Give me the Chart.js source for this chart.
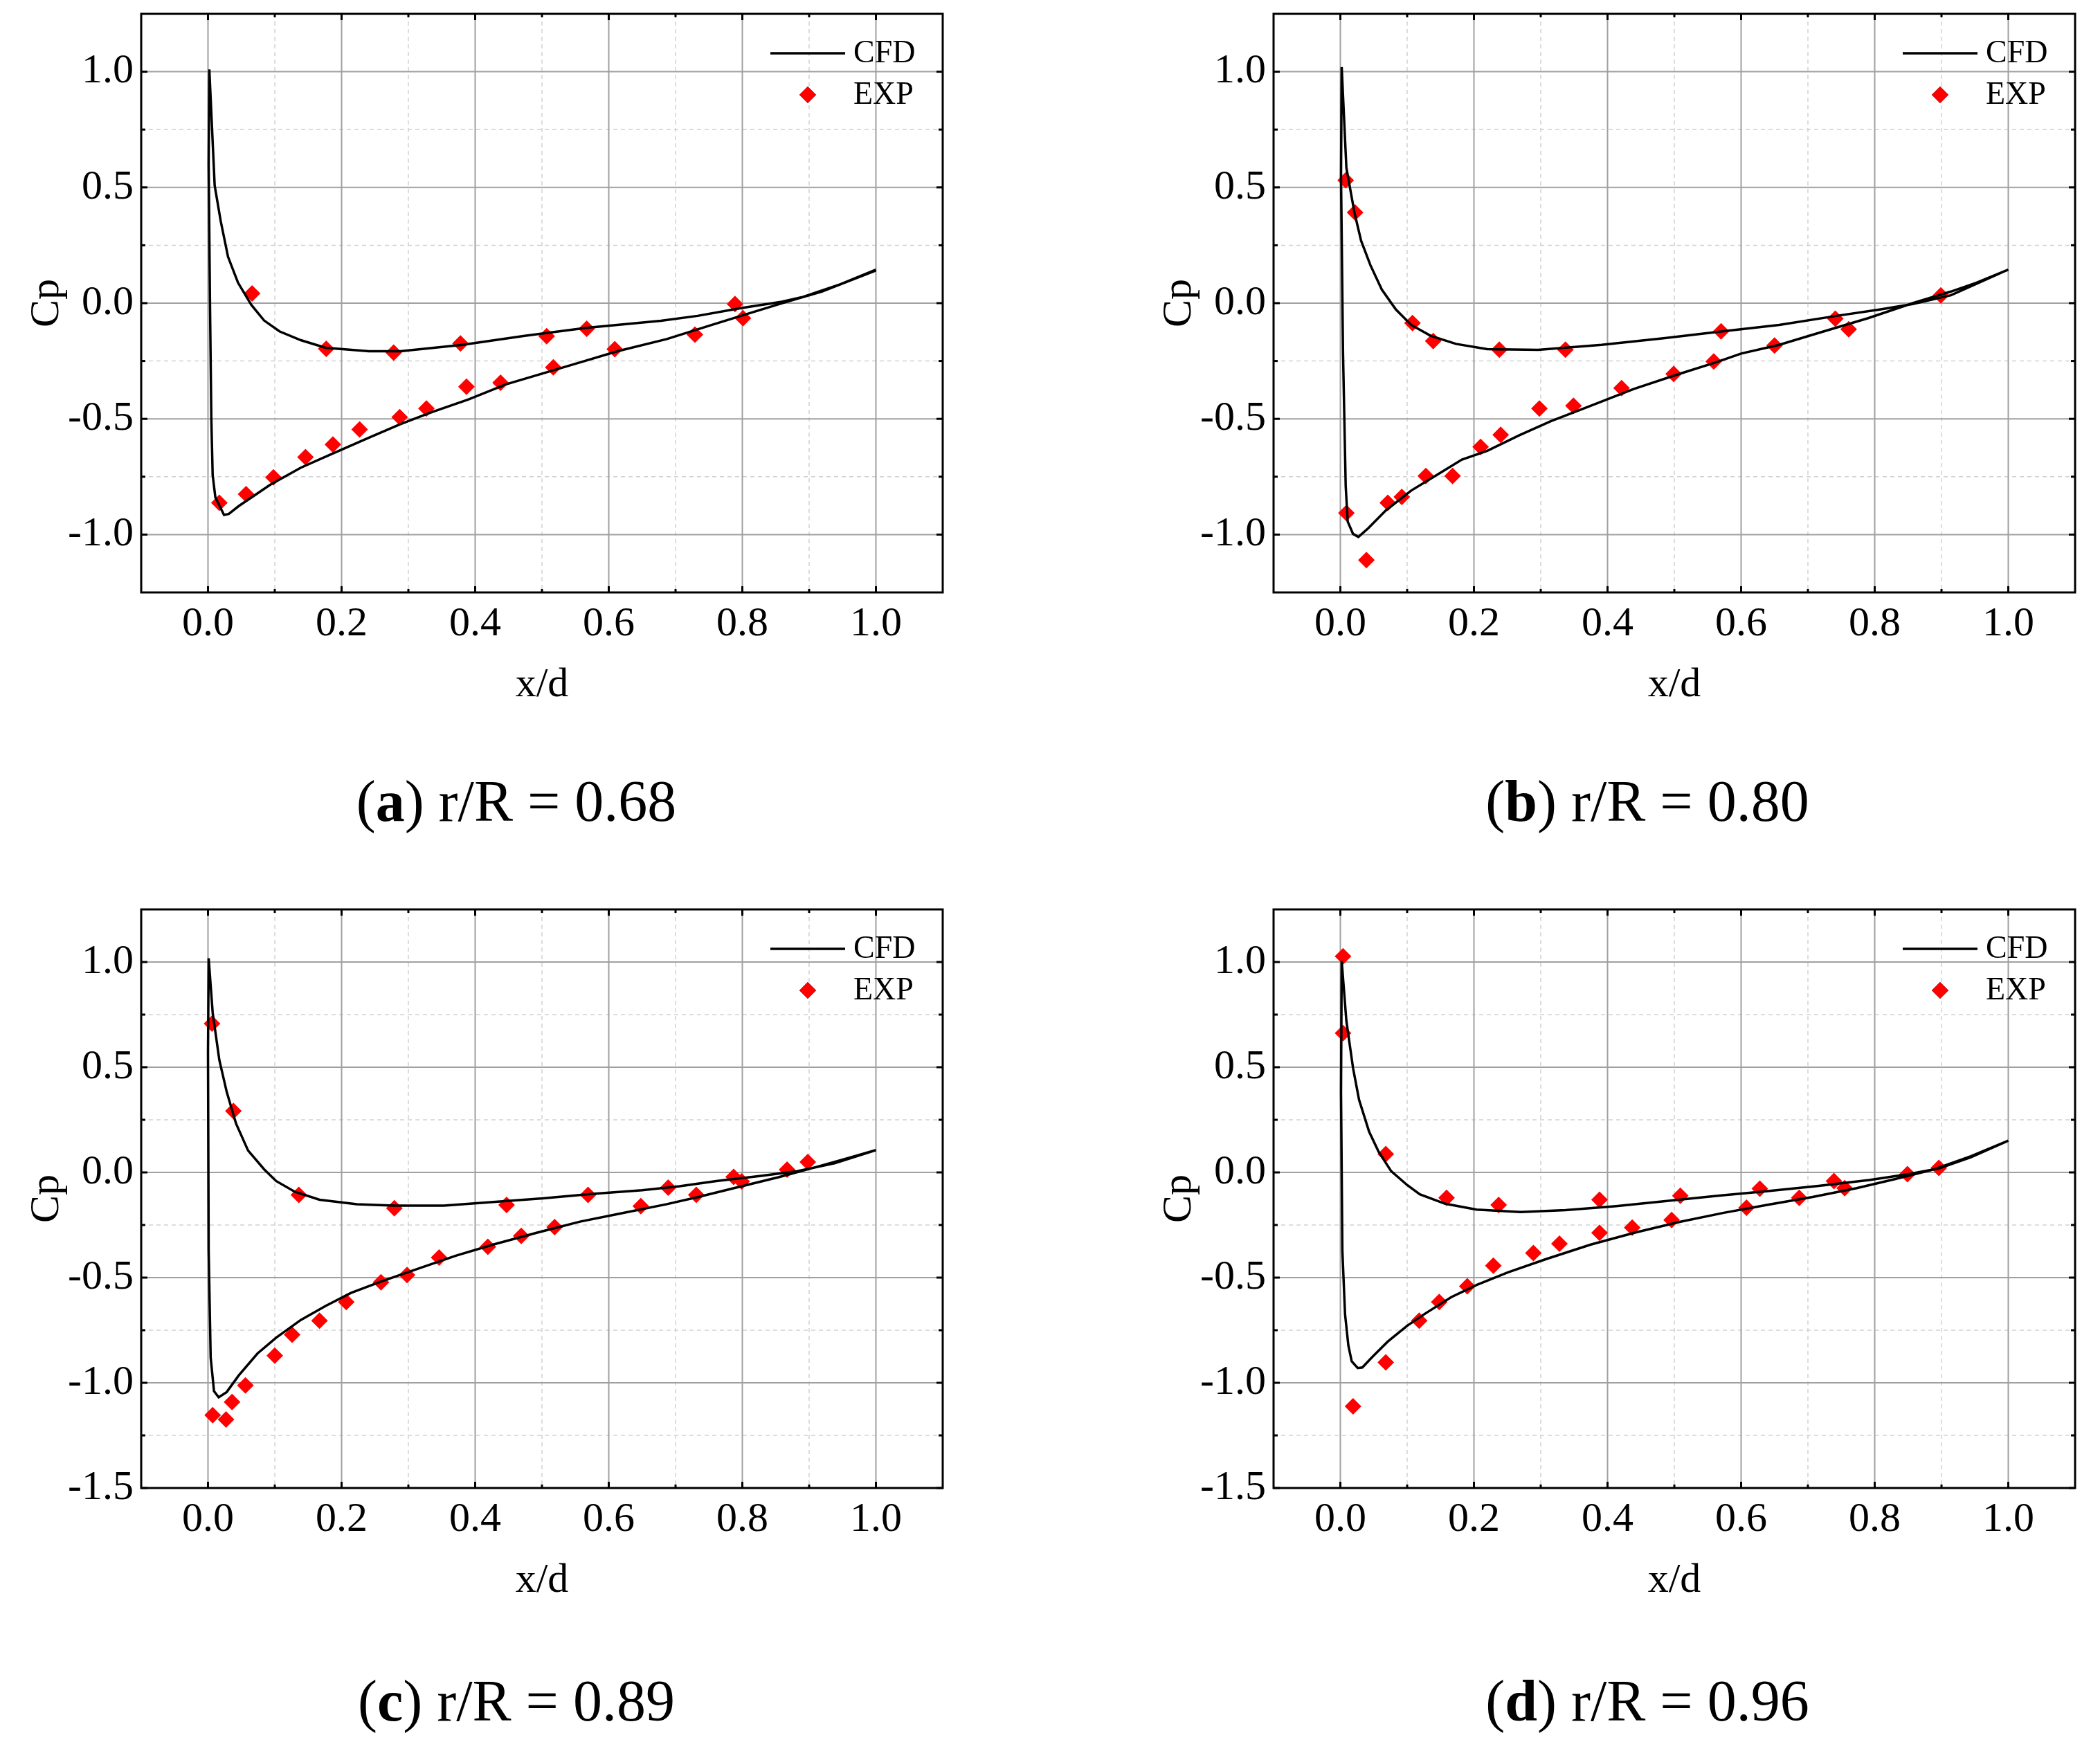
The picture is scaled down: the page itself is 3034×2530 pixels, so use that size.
<!DOCTYPE html>
<html>
<head>
<meta charset="utf-8">
<script src="https://cdn.jsdelivr.net/npm/chart.js@4.4.1/dist/chart.umd.min.js"></script>
<style>
  html, body { margin: 0; padding: 0; background: #fff; }
  body { width: 3034px; height: 2530px; position: relative; overflow: hidden; font-family: 'Liberation Serif', serif; }
  .panel { position: absolute; width: 1400px; height: 1060px; }
  .panel canvas { display: block; }
  .caption { position: absolute; width: 800px; margin-left: -400px; text-align: center; font-size: 84px; line-height: 1; color: #000; }
</style>
</head>
<body>
<div class="panel" style="left:0;top:0"><canvas id="chartA" width="1400" height="1060"></canvas></div>
<div class="panel" style="left:1636px;top:0"><canvas id="chartB" width="1400" height="1060"></canvas></div>
<div class="panel" style="left:0;top:1294px"><canvas id="chartC" width="1400" height="1060"></canvas></div>
<div class="panel" style="left:1636px;top:1294px"><canvas id="chartD" width="1400" height="1060"></canvas></div>
<div class="caption" style="left:746px;top:1116px">(<b>a</b>) r/R = 0.68</div>
<div class="caption" style="left:2380px;top:1116px">(<b>b</b>) r/R = 0.80</div>
<div class="caption" style="left:746px;top:2416px">(<b>c</b>) r/R = 0.89</div>
<div class="caption" style="left:2380px;top:2416px">(<b>d</b>) r/R = 0.96</div>
<script>
// tick values
const xTicks = [0.0, 0.2, 0.4, 0.6, 0.8, 1.0];
const xMinor = [0.1, 0.3, 0.5, 0.7, 0.9];
const yTicksAB = [-1.0, -0.5, 0.0, 0.5, 1.0];
const yMinorAB = [-0.75, -0.25, 0.25, 0.75];
const yTicksCD = [-1.5, -1.0, -0.5, 0.0, 0.5, 1.0];
const yMinorCD = [-1.25, -0.75, -0.25, 0.25, 0.75];

// (a) r/R = 0.68
const cfdAx = [1.0, 0.947, 0.891, 0.859, 0.799, 0.733, 0.678, 0.566, 0.474, 0.381, 0.288, 0.241, 0.176, 0.139, 0.107, 0.084, 0.065, 0.045, 0.030, 0.019, 0.010, 0.002,
  0.001, 0.003, 0.005, 0.007, 0.011, 0.024, 0.031, 0.046, 0.093, 0.139, 0.186, 0.241, 0.288, 0.334, 0.390, 0.446, 0.501, 0.557, 0.613, 0.687, 0.752, 0.808, 0.862, 0.919, 0.966, 1.0];
const cfdAy = [0.145, 0.082, 0.027, 0.006, -0.021, -0.055, -0.076, -0.107, -0.141, -0.180, -0.208, -0.208, -0.193, -0.160, -0.122, -0.075, -0.008, 0.088, 0.200, 0.355, 0.508, 1.010,
  0.600, 0.000, -0.500, -0.743, -0.839, -0.915, -0.911, -0.877, -0.785, -0.711, -0.651, -0.581, -0.523, -0.472, -0.416, -0.351, -0.304, -0.256, -0.208, -0.155, -0.096, -0.046, 0.002, 0.050, 0.103, 0.141];
const expAx = [0.017, 0.057, 0.066, 0.098, 0.146, 0.177, 0.187, 0.227, 0.278, 0.287, 0.327, 0.378, 0.387, 0.438, 0.507, 0.517, 0.567, 0.609, 0.729, 0.789, 0.801];
const expAy = [-0.863, -0.825, 0.042, -0.753, -0.665, -0.197, -0.611, -0.546, -0.214, -0.493, -0.455, -0.174, -0.361, -0.344, -0.143, -0.277, -0.111, -0.199, -0.136, -0.004, -0.065];

// (b) r/R = 0.80
const cfdBx = [1.0, 0.962, 0.914, 0.857, 0.809, 0.743, 0.657, 0.572, 0.486, 0.391, 0.296, 0.220, 0.173, 0.135, 0.106, 0.083, 0.062, 0.045, 0.031, 0.021, 0.009, 0.002,
  0.001, 0.004, 0.008, 0.011, 0.019, 0.027, 0.042, 0.068, 0.106, 0.144, 0.182, 0.220, 0.268, 0.315, 0.372, 0.439, 0.505, 0.562, 0.600, 0.657, 0.724, 0.790, 0.857, 0.914, 0.952, 1.0];
const cfdBy = [0.145, 0.096, 0.034, -0.004, -0.027, -0.055, -0.094, -0.122, -0.151, -0.180, -0.202, -0.199, -0.176, -0.141, -0.094, -0.027, 0.059, 0.164, 0.270, 0.393, 0.585, 1.020,
  0.546, -0.218, -0.791, -0.944, -0.997, -1.010, -0.972, -0.896, -0.810, -0.743, -0.676, -0.638, -0.571, -0.510, -0.447, -0.371, -0.308, -0.256, -0.218, -0.180, -0.122, -0.065, 0.000, 0.050, 0.088, 0.145];
const expBx = [0.008, 0.022, 0.009, 0.039, 0.071, 0.092, 0.108, 0.128, 0.139, 0.168, 0.210, 0.238, 0.240, 0.298, 0.337, 0.349, 0.421, 0.499, 0.559, 0.570, 0.650, 0.741, 0.761, 0.899];
const expBy = [0.531, 0.392, -0.907, -1.110, -0.863, -0.837, -0.086, -0.747, -0.164, -0.747, -0.621, -0.201, -0.569, -0.455, -0.201, -0.443, -0.367, -0.306, -0.252, -0.122, -0.183, -0.067, -0.113, 0.034];

// (c) r/R = 0.89
const cfdCx = [1.0, 0.938, 0.882, 0.826, 0.761, 0.706, 0.650, 0.576, 0.501, 0.427, 0.353, 0.279, 0.223, 0.167, 0.130, 0.102, 0.084, 0.060, 0.042, 0.028, 0.017, 0.007, 0.001,
  0.000, 0.001, 0.004, 0.009, 0.016, 0.028, 0.046, 0.074, 0.102, 0.139, 0.176, 0.214, 0.260, 0.316, 0.371, 0.427, 0.492, 0.557, 0.613, 0.687, 0.734, 0.799, 0.854, 0.910, 0.956, 1.0];
const cfdCy = [0.106, 0.043, 0.006, -0.017, -0.041, -0.066, -0.085, -0.102, -0.123, -0.141, -0.158, -0.158, -0.151, -0.130, -0.092, -0.041, 0.015, 0.104, 0.232, 0.383, 0.534, 0.760, 1.018,
  0.570, -0.370, -0.880, -1.040, -1.069, -1.044, -0.965, -0.861, -0.786, -0.701, -0.635, -0.573, -0.518, -0.456, -0.396, -0.343, -0.287, -0.234, -0.198, -0.151, -0.117, -0.066, -0.023, 0.025, 0.066, 0.106];
const expCx = [0.006, 0.038, 0.007, 0.027, 0.036, 0.056, 0.100, 0.126, 0.136, 0.167, 0.207, 0.259, 0.279, 0.298, 0.346, 0.419, 0.447, 0.469, 0.519, 0.569, 0.648, 0.689, 0.731, 0.787, 0.799, 0.867, 0.898];
const expCy = [0.707, 0.292, -1.154, -1.174, -1.091, -1.012, -0.871, -0.771, -0.107, -0.705, -0.616, -0.522, -0.170, -0.488, -0.405, -0.354, -0.155, -0.302, -0.260, -0.107, -0.160, -0.072, -0.107, -0.021, -0.043, 0.013, 0.049];

// (d) r/R = 0.96
const cfdDx = [1.0, 0.944, 0.896, 0.849, 0.792, 0.716, 0.640, 0.565, 0.489, 0.413, 0.337, 0.270, 0.204, 0.157, 0.119, 0.100, 0.076, 0.057, 0.043, 0.028, 0.019, 0.009, 0.002,
  0.001, 0.003, 0.007, 0.012, 0.017, 0.026, 0.033, 0.047, 0.071, 0.100, 0.128, 0.166, 0.204, 0.251, 0.308, 0.375, 0.441, 0.508, 0.574, 0.640, 0.707, 0.773, 0.830, 0.887, 0.944, 1.0];
const cfdDy = [0.151, 0.072, 0.019, -0.009, -0.036, -0.064, -0.089, -0.111, -0.136, -0.160, -0.179, -0.188, -0.177, -0.149, -0.104, -0.060, 0.006, 0.100, 0.194, 0.345, 0.496, 0.720, 1.005,
  0.380, -0.370, -0.673, -0.823, -0.898, -0.930, -0.927, -0.880, -0.804, -0.729, -0.669, -0.593, -0.535, -0.475, -0.412, -0.343, -0.286, -0.235, -0.192, -0.154, -0.117, -0.075, -0.032, 0.013, 0.077, 0.151];
const expDx = [0.004, 0.004, 0.068, 0.019, 0.068, 0.118, 0.148, 0.159, 0.190, 0.229, 0.237, 0.289, 0.328, 0.388, 0.388, 0.437, 0.496, 0.509, 0.608, 0.628, 0.687, 0.739, 0.755, 0.849, 0.896];
const expDy = [1.027, 0.662, 0.087, -1.112, -0.903, -0.705, -0.616, -0.121, -0.541, -0.443, -0.155, -0.383, -0.339, -0.130, -0.287, -0.262, -0.226, -0.111, -0.168, -0.077, -0.121, -0.041, -0.075, -0.008, 0.021];

Chart.defaults.font.family = "'Liberation Serif', 'Times New Roman', serif";
Chart.defaults.color = '#000';

const toPoints = (xs, ys) => xs.map((x, i) => ({ x: x, y: ys[i] }));

// grid, frame with inward ticks and the in-plot legend
const framePlugin = {
  id: 'frame',
  beforeDatasetsDraw(chart, args, opts) {
    const { ctx, chartArea: a, scales: { x, y } } = chart;
    ctx.save();
    ctx.strokeStyle = '#d2d2d2';
    ctx.lineWidth = 1.5;
    ctx.setLineDash([6, 5]);
    xMinor.forEach(v => {
      const p = x.getPixelForValue(v);
      ctx.beginPath(); ctx.moveTo(p, a.top); ctx.lineTo(p, a.bottom); ctx.stroke();
    });
    opts.yMinor.forEach(v => {
      const p = y.getPixelForValue(v);
      ctx.beginPath(); ctx.moveTo(a.left, p); ctx.lineTo(a.right, p); ctx.stroke();
    });
    ctx.setLineDash([]);
    ctx.strokeStyle = '#a0a0a0';
    ctx.lineWidth = 2;
    xTicks.forEach(v => {
      const p = x.getPixelForValue(v);
      ctx.beginPath(); ctx.moveTo(p, a.top); ctx.lineTo(p, a.bottom); ctx.stroke();
    });
    opts.yTicks.forEach(v => {
      const p = y.getPixelForValue(v);
      ctx.beginPath(); ctx.moveTo(a.left, p); ctx.lineTo(a.right, p); ctx.stroke();
    });
    ctx.restore();
  },
  afterDatasetsDraw(chart, args, opts) {
    const { ctx, chartArea: a, scales: { x, y } } = chart;
    ctx.save();
    ctx.strokeStyle = '#000';
    ctx.lineWidth = 3;
    const tick = (vals, len) => {
      vals.forEach(v => {
        const px = x.getPixelForValue(v);
        ctx.beginPath(); ctx.moveTo(px, a.bottom); ctx.lineTo(px, a.bottom - len); ctx.stroke();
        ctx.beginPath(); ctx.moveTo(px, a.top); ctx.lineTo(px, a.top + len); ctx.stroke();
      });
    };
    tick(xTicks, 9);
    tick(xMinor, 5);
    const ytick = (vals, len) => {
      vals.forEach(v => {
        const py = y.getPixelForValue(v);
        ctx.beginPath(); ctx.moveTo(a.left, py); ctx.lineTo(a.left + len, py); ctx.stroke();
        ctx.beginPath(); ctx.moveTo(a.right, py); ctx.lineTo(a.right - len, py); ctx.stroke();
      });
    };
    ytick(opts.yTicks, 9);
    ytick(opts.yMinor, 6);
    ctx.strokeRect(a.left, a.top, a.right - a.left, a.bottom - a.top);

    // legend
    const cfd = chart.data.datasets[0];
    const exp = chart.data.datasets[1];
    ctx.strokeStyle = cfd.borderColor;
    ctx.lineWidth = cfd.borderWidth;
    ctx.beginPath();
    ctx.moveTo(a.right - 249, a.top + 57);
    ctx.lineTo(a.right - 141, a.top + 57);
    ctx.stroke();
    Chart.helpers.drawPoint(ctx, {
      pointStyle: exp.pointStyle, radius: exp.pointRadius, borderWidth: 0, rotation: 0
    }, a.right - 195, a.top + 117);
    ctx.fillStyle = exp.backgroundColor;
    ctx.fill();
    ctx.fillStyle = '#000';
    ctx.font = "46px 'Liberation Serif'";
    ctx.textBaseline = 'middle';
    ctx.textAlign = 'left';
    ctx.fillText(cfd.label, a.right - 129, a.top + 58);
    ctx.fillText(exp.label, a.right - 129, a.top + 118);
    ctx.restore();
  }
};

function makePanel(id, cfdX, cfdY, expX, expY, yMin, yTicks, yMinor) {
  return new Chart(document.getElementById(id), {
    type: 'scatter',
    data: {
      datasets: [{
        label: 'CFD',
        data: toPoints(cfdX, cfdY),
        showLine: true,
        borderColor: '#000',
        borderWidth: 3.5,
        pointRadius: 0,
        tension: 0
      }, {
        label: 'EXP',
        data: toPoints(expX, expY),
        showLine: false,
        pointStyle: 'rectRot',
        pointRadius: 12,
        backgroundColor: '#ff0000',
        borderColor: '#ff0000',
        borderWidth: 0
      }]
    },
    options: {
      responsive: false,
      animation: false,
      layout: { autoPadding: false, padding: { left: 0, top: 20, right: 38, bottom: 0 } },
      plugins: {
        legend: { display: false },
        tooltip: { enabled: false },
        frame: { yTicks: yTicks, yMinor: yMinor }
      },
      scales: {
        x: {
          type: 'linear',
          min: -0.1,
          max: 1.1,
          afterBuildTicks: s => { s.ticks = xTicks.map(v => ({ value: v })); },
          afterFit: s => { s.height = 204; s.paddingLeft = 0; s.paddingRight = 0; },
          grid: { display: false, drawTicks: false },
          border: { display: false },
          ticks: {
            callback: v => v.toFixed(1),
            font: { size: 60 },
            color: '#000',
            padding: 10,
            maxRotation: 0,
            autoSkip: false
          },
          title: { display: true, text: 'x/d', font: { size: 60 }, color: '#000', padding: { top: 0, bottom: 34 } }
        },
        y: {
          type: 'linear',
          min: yMin,
          max: 1.25,
          afterBuildTicks: s => { s.ticks = yTicks.map(v => ({ value: v })); },
          afterFit: s => { s.width = 204; s.paddingTop = 0; s.paddingBottom = 0; },
          grid: { display: false, drawTicks: false },
          border: { display: false },
          ticks: {
            callback: v => v.toFixed(1),
            font: { size: 60 },
            color: '#000',
            padding: 11,
            autoSkip: false
          },
          title: { display: true, text: 'Cp', font: { size: 60 }, color: '#000', padding: { top: 32, bottom: 0 } }
        }
      }
    },
    plugins: [framePlugin]
  });
}

makePanel('chartA', cfdAx, cfdAy, expAx, expAy, -1.25, yTicksAB, yMinorAB);
makePanel('chartB', cfdBx, cfdBy, expBx, expBy, -1.25, yTicksAB, yMinorAB);
makePanel('chartC', cfdCx, cfdCy, expCx, expCy, -1.5, yTicksCD, yMinorCD);
makePanel('chartD', cfdDx, cfdDy, expDx, expDy, -1.5, yTicksCD, yMinorCD);
</script>
</body>
</html>
